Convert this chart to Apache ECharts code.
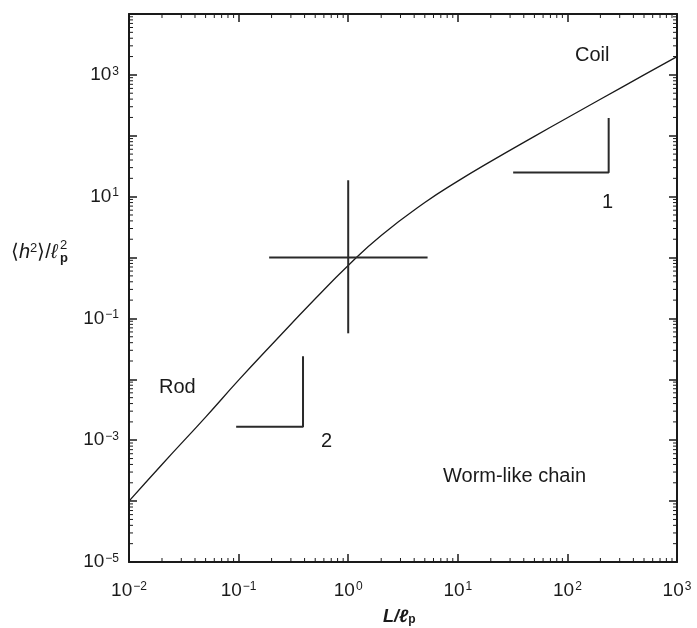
<!DOCTYPE html>
<html>
<head>
<meta charset="utf-8">
<script src="https://cdn.jsdelivr.net/npm/echarts@6/dist/echarts.min.js"></script>
<style>
  html, body { margin: 0; padding: 0; background: #fff; }
  #main { width: 697px; height: 628px; }
</style>
</head>
<body>
<div id="main"></div>
<script>
// 曲线数据
var chainX = [0.01, 0.02, 0.05, 0.1, 0.2, 0.5, 1, 2, 5, 10, 20, 50, 100, 200, 500, 1000];
var chainY = [1.0e-4, 4.0e-4, 2.4e-3, 9.7e-3, 3.7e-2, 0.21, 0.74, 2.3, 8.0, 18, 38, 98, 198, 398, 998, 1998];

// 十字线
var crossH = [[0.19, 1], [5.3, 1]];
var crossV = [[1, 0.057], [1, 18.6]];

// 斜率三角
var slope1 = [[32, 25], [238, 25], [238, 195]];
var slope2 = [[0.095, 0.00166], [0.387, 0.00166], [0.387, 0.024]];

var xMin = 0.01, xMax = 1000;
var yMin = 1e-5, yMax = 1e4;

var FONT = 'Liberation Sans';
var INK = '#1a1a1a';

function pairs(xs, ys) {
  var out = [];
  for (var i = 0; i < xs.length; i++) out.push([xs[i], ys[i]]);
  return out;
}

function powLabel(v) {
  var e = Math.round(Math.log10(v));
  var s = e < 0 ? '\u2212' + (-e) : '' + e;
  return '{b|10}{s|' + s + '}';
}
function powLabelOdd(v) {//y轴隔一个显示
  var e = Math.round(Math.log10(v));
  if (Math.abs(e) % 2 == 0) return '';
  return powLabel(v);
}

var labelRich = {
  b: { fontSize: 19, fontFamily: FONT, color: INK },
  s: { fontSize: 12, fontFamily: FONT, color: INK, verticalAlign: 'top', padding: [0, 0, 0, 1] }
};

function axisBase(extra) {
  var a = {
    type: 'log',
    logBase: 10,
    axisLine: { show: true, lineStyle: { color: INK, width: 2 } },
    axisTick: { show: true, inside: true, length: 8, lineStyle: { color: INK, width: 1.5 } },
    minorTick: { show: false },
    splitLine: { show: false },
    minorSplitLine: { show: false }
  };
  for (var k in extra) a[k] = extra[k];
  return a;
}

// 对数次刻度 (2..9 x 10^k), 四边都画, 朝内
function renderMinorTicks(params, api) {
  var kids = [];
  var len = 4;
  function tick(x1, y1, x2, y2) {
    kids.push({
      type: 'line',
      shape: { x1: x1, y1: y1, x2: x2, y2: y2 },
      style: { stroke: INK, lineWidth: 1 }
    });
  }
  for (var k = -2; k < 3; k++) {
    for (var m = 2; m < 10; m++) {
      var v = m * Math.pow(10, k);
      var pb = api.coord([v, yMin]);
      var pt = api.coord([v, yMax]);
      tick(pb[0], pb[1], pb[0], pb[1] - len);
      tick(pt[0], pt[1], pt[0], pt[1] + len);
    }
  }
  for (var k = -5; k < 4; k++) {
    for (var m = 2; m < 10; m++) {
      var v = m * Math.pow(10, k);
      var pl = api.coord([xMin, v]);
      var pr = api.coord([xMax, v]);
      tick(pl[0], pl[1], pl[0] + len, pl[1]);
      tick(pr[0], pr[1], pr[0] - len, pr[1]);
    }
  }
  return { type: 'group', children: kids };
}

var chart = echarts.init(document.getElementById('main'), null, { renderer: 'canvas' });

var lineBlk = { color: INK, width: 1.3 };
var lineMark = { color: '#2a2a2a', width: 2 };

var option = {
  animation: false,
  backgroundColor: '#fff',
  grid: { left: 129, right: 20, top: 14, bottom: 66 },
  xAxis: [
    axisBase({
      min: xMin, max: xMax, interval: 1, position: 'bottom',
      axisLabel: { formatter: powLabel, rich: labelRich, margin: 19 }
    }),
    axisBase({
      min: xMin, max: xMax, interval: 1, position: 'top',
      axisLabel: { show: false }
    })
  ],
  yAxis: [
    axisBase({
      min: yMin, max: yMax, interval: 1, position: 'left',
      axisLabel: { formatter: powLabelOdd, rich: labelRich, margin: 10 }
    }),
    axisBase({
      min: yMin, max: yMax, interval: 1, position: 'right',
      axisLabel: { show: false }
    })
  ],
  series: [
    {
      type: 'custom', renderItem: renderMinorTicks, data: [[xMin, yMin]],
      clip: false, silent: true, z: 1
    },
    {
      type: 'line', data: pairs(chainX, chainY), smooth: true, symbol: 'none',
      lineStyle: lineBlk, z: 3
    },
    { type: 'line', data: crossH, symbol: 'none', lineStyle: lineMark },
    { type: 'line', data: crossV, symbol: 'none', lineStyle: lineMark },
    { type: 'line', data: slope1, symbol: 'none', lineStyle: lineMark },
    { type: 'line', data: slope2, symbol: 'none', lineStyle: lineMark }
  ],
  graphic: [
    { type: 'text', left: 575, top: 45, style: { text: 'Coil', font: '20px ' + FONT, fill: INK } },
    { type: 'text', left: 159, top: 377, style: { text: 'Rod', font: '20px ' + FONT, fill: INK } },
    { type: 'text', left: 443, top: 466, style: { text: 'Worm-like chain', font: '20px ' + FONT, fill: INK } },
    { type: 'text', left: 602, top: 192, style: { text: '1', font: '20px ' + FONT, fill: INK } },
    { type: 'text', left: 321, top: 431, style: { text: '2', font: '20px ' + FONT, fill: INK } },
    // y 轴名
    {
      type: 'text', left: 11, top: 242,
      style: {
        text: '{n|\u27e8}{i|h}{s|2}{n|\u27e9/}{i|\u2113}',
        rich: {
          n: { fontSize: 20, fontFamily: FONT, fill: INK },
          i: { fontSize: 20, fontFamily: FONT, fontStyle: 'italic', fill: INK },
          s: { fontSize: 13, fontFamily: FONT, fill: INK, verticalAlign: 'top' }
        }
      }
    },
    { type: 'text', left: 60, top: 239, style: { text: '2', font: '13px ' + FONT, fill: INK } },
    { type: 'text', left: 60, top: 252, style: { text: 'p', font: 'bold 13px ' + FONT, fill: INK } },
    // x 轴名
    {
      type: 'text', left: 383, top: 608,
      style: {
        text: '{i|L/\u2113}{p|p}',
        rich: {
          i: { fontSize: 18, fontFamily: FONT, fontStyle: 'italic', fontWeight: 'bold', fill: INK },
          p: { fontSize: 12, fontFamily: FONT, fontWeight: 'bold', fill: INK, verticalAlign: 'bottom' }
        }
      }
    }
  ]
};

chart.setOption(option);
</script>
</body>
</html>
